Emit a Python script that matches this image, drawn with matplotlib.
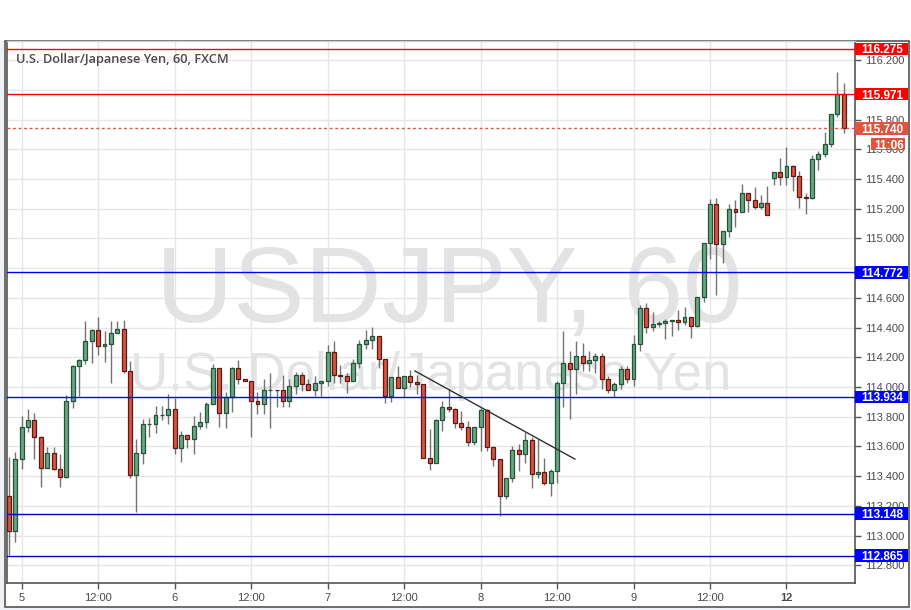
import numpy as np
import matplotlib.pyplot as plt
import matplotlib.transforms as mtransforms
from matplotlib.patches import Rectangle

# hourly USD/JPY candles (Sun 4th 22:00 -> Mon 12th 09:00)
opens = [113.264, 113.031, 113.513, 113.729, 113.776, 113.662, 113.453, 113.554, 113.446, 113.392,
         113.904, 114.141, 114.182, 114.308, 114.382, 114.274, 114.287, 114.361, 114.388, 114.106,
         113.410, 113.554, 113.749, 113.751, 113.810, 113.812, 113.852, 113.587, 113.675, 113.648,
         113.736, 113.762, 113.884, 114.126, 113.823, 113.933, 114.126, 114.052, 114.038, 113.904,
         113.884, 113.978, 113.979, 113.977, 113.904, 114.005, 114.081, 114.018, 113.978, 114.027,
         114.040, 114.234, 114.081, 114.072, 114.042, 114.159, 114.289, 114.314, 114.343, 114.186,
         113.937, 114.065, 113.991, 114.074, 114.032, 114.018, 113.520, 113.491, 113.778, 113.863,
         113.854, 113.760, 113.733, 113.628, 113.729, 113.843, 113.598, 113.513, 113.268, 113.386,
         113.574, 113.551, 113.641, 113.417, 113.428, 113.356, 113.435, 114.025, 114.162, 114.119,
         114.207, 114.159, 114.180, 114.207, 114.052, 113.978, 114.018, 114.119, 114.052, 114.287,
         114.530, 114.406, 114.424, 114.429, 114.442, 114.449, 114.435, 114.469, 114.408, 114.604,
         114.967, 115.229, 114.960, 115.048, 115.196, 115.176, 115.303, 115.256, 115.209, 115.236,
         115.404, 115.444, 115.411, 115.485, 115.422, 115.277, 115.270, 115.532, 115.566, 115.633,
         115.835, 115.971]
highs = [113.531, 113.561, 113.805, 113.852, 113.825, 113.670, 113.596, 113.596, 113.549, 113.946,
         114.148, 114.186, 114.444, 114.390, 114.471, 114.377, 114.444, 114.446, 114.451, 114.175,
         113.650, 113.785, 113.791, 113.870, 113.870, 113.951, 113.926, 113.702, 113.675, 113.803,
         113.830, 113.897, 114.153, 114.126, 113.968, 114.133, 114.182, 114.052, 114.040, 113.968,
         114.052, 114.092, 113.979, 114.081, 114.052, 114.103, 114.103, 114.052, 114.074, 114.040,
         114.283, 114.310, 114.148, 114.092, 114.186, 114.316, 114.384, 114.406, 114.343, 114.186,
         114.065, 114.141, 114.074, 114.114, 114.081, 114.018, 113.719, 113.783, 113.906, 113.985,
         113.857, 113.841, 113.773, 113.733, 113.861, 113.850, 113.598, 113.515, 113.386, 113.603,
         113.614, 113.699, 113.661, 113.648, 113.520, 113.446, 114.043, 114.377, 114.242, 114.310,
         114.296, 114.242, 114.227, 114.231, 114.074, 114.034, 114.141, 114.141, 114.348, 114.552,
         114.563, 114.505, 114.446, 114.456, 114.449, 114.518, 114.538, 114.469, 114.608, 114.967,
         115.265, 115.272, 115.048, 115.232, 115.258, 115.366, 115.303, 115.345, 115.292, 115.353,
         115.444, 115.539, 115.613, 115.492, 115.454, 115.306, 115.563, 115.588, 115.716, 115.835,
         116.120, 116.046]
lows = [112.869, 112.959, 113.448, 113.699, 113.518, 113.329, 113.453, 113.440, 113.329, 113.390,
        113.861, 113.939, 114.157, 114.164, 114.217, 114.170, 114.029, 114.361, 114.096, 113.390,
        113.160, 113.480, 113.661, 113.688, 113.778, 113.749, 113.547, 113.497, 113.587, 113.551,
        113.719, 113.722, 113.884, 113.729, 113.722, 113.834, 114.018, 114.038, 113.666, 113.818,
        113.818, 113.726, 113.863, 113.863, 113.863, 113.953, 113.971, 113.978, 113.939, 113.939,
        114.007, 114.025, 114.025, 113.962, 114.042, 114.130, 114.254, 114.254, 114.126, 113.894,
        113.901, 113.991, 113.931, 114.002, 113.953, 113.520, 113.441, 113.491, 113.704, 113.830,
        113.722, 113.711, 113.605, 113.610, 113.569, 113.571, 113.468, 113.132, 113.244, 113.359,
        113.437, 113.491, 113.318, 113.386, 113.340, 113.268, 113.356, 113.867, 113.787, 113.951,
        114.108, 114.108, 114.092, 113.985, 113.958, 113.935, 113.985, 114.029, 114.009, 114.242,
        114.365, 114.379, 114.402, 114.321, 114.345, 114.382, 114.415, 114.328, 114.404, 114.574,
        114.863, 114.621, 114.836, 115.011, 115.075, 115.176, 115.180, 115.196, 115.196, 115.155,
        115.361, 115.361, 115.361, 115.321, 115.203, 115.162, 115.263, 115.462, 115.550, 115.613,
        115.819, 115.711]
closes = [113.031, 113.513, 113.729, 113.776, 113.662, 113.453, 113.554, 113.446, 113.392, 113.904,
          114.141, 114.182, 114.308, 114.382, 114.274, 114.287, 114.361, 114.388, 114.106, 113.410,
          113.554, 113.749, 113.751, 113.810, 113.812, 113.852, 113.587, 113.675, 113.648, 113.736,
          113.762, 113.884, 114.126, 113.823, 113.933, 114.126, 114.052, 114.038, 113.904, 113.884,
          113.978, 113.979, 113.977, 113.904, 114.005, 114.081, 114.018, 113.978, 114.027, 114.040,
          114.234, 114.081, 114.072, 114.042, 114.159, 114.289, 114.314, 114.343, 114.186, 113.937,
          114.065, 113.991, 114.074, 114.032, 114.018, 113.520, 113.491, 113.778, 113.863, 113.854,
          113.760, 113.733, 113.628, 113.729, 113.843, 113.598, 113.513, 113.268, 113.386, 113.574,
          113.551, 113.641, 113.417, 113.428, 113.356, 113.435, 114.025, 114.162, 114.119, 114.207,
          114.159, 114.180, 114.207, 114.052, 113.978, 114.018, 114.119, 114.052, 114.287, 114.530,
          114.406, 114.424, 114.429, 114.442, 114.449, 114.435, 114.469, 114.408, 114.604, 114.967,
          115.229, 114.960, 115.048, 115.196, 115.176, 115.303, 115.256, 115.209, 115.236, 115.155,
          115.444, 115.411, 115.485, 115.422, 115.277, 115.270, 115.532, 115.566, 115.633, 115.835,
          115.971, 115.740]

tick_pos = [2, 14, 26, 38, 50, 62, 74, 86, 98, 110, 122]
tick_labels = ['5', '12:00', '6', '12:00', '7', '12:00', '8', '12:00', '9', '12:00', '12']

levels = [116.275, 115.971, 114.772, 113.934, 113.148, 112.865]
level_colors = ['#ff0000', '#ff0000', '#0000ff', '#0000ff', '#0000d0', '#0000d0']
box_colors = ['#ff0000', '#ff0000', '#0000ff', '#0000ff', '#0000ff', '#0000ff']
last_price = 115.740
countdown = '11:06'

trend_x = [63.7, 88.8]
trend_y = [114.108, 113.515]

title = 'U.S. Dollar/Japanese Yen, 60, FXCM'

W, H = 912, 610
TOP = 41      # pixel row where the chart frame starts
BOT = 583     # pixel row of the time axis
fig = plt.figure(figsize=(W / 100, H / 100), dpi=100, facecolor='#eef1f5')
fig.patches.append(Rectangle((0, 1 - TOP / H), 1, TOP / H, transform=fig.transFigure,
                             fc='white', ec='none', zorder=-6))
fig.patches.append(Rectangle((5 / W, 3 / H), 904 / W, (H - TOP - 3) / H, transform=fig.transFigure,
                             fc='white', ec='#555555', lw=1.2, zorder=-5))
ax = fig.add_axes([7 / W, (H - BOT) / H, 848 / W, (BOT - TOP) / H])
ax.set_facecolor('white')

x = np.arange(len(opens))
o = np.array(opens)
c = np.array(closes)
up = c >= o

ax.vlines(x, lows, highs, color='#737375', lw=1, zorder=3)
ax.bar(x, c - o, bottom=o, width=0.62,
       color=np.where(up, '#6ba583', '#d75442'),
       edgecolor=np.where(up, '#225437', '#5b1a13'), lw=0.9, zorder=4)

# levels
for lv, col in zip(levels, level_colors):
    ax.axhline(lv, color=col, lw=1, zorder=5)
ax.axhline(last_price, color='#e0533f', lw=1, ls=(0, (2, 2)), zorder=5)
ax.plot(trend_x, trend_y, color='#303030', lw=1, zorder=5)

ax.set_xlim(-0.3, 132.75)
ax.set_ylim(114 - (BOT - 387) / 148.6, 114 + (387 - TOP) / 148.6)

ax.yaxis.tick_right()
yt = np.arange(112.8, 116.21, 0.2)
ax.set_yticks(yt)
hidden = {'116.000', '114.800'}
ax.set_yticklabels(['' if f'{v:.3f}' in hidden else f'{v:.3f}' for v in yt],
                   family='Liberation Sans', fontsize=8, color='#4a4a4a')
ax.set_xticks(tick_pos)
ax.set_xticklabels(tick_labels, family=['Liberation Sans Narrow', 'Liberation Sans'],
                   fontsize=8, color='#4a4a4a')
ax.get_xticklabels()[-1].set_fontweight('bold')
ax.tick_params(axis='both', length=4, width=1, color='#555555', pad=3)
ax.grid(True, color='#e6e6e6', lw=1, zorder=0)
ax.set_axisbelow(True)

for s in ['left', 'right', 'bottom']:
    ax.spines[s].set_color('#555555')
    ax.spines[s].set_linewidth(1.2)
ax.spines['top'].set_color('#d0d0d0')
ax.spines['top'].set_linewidth(1)

# watermark
ax.text(0.522, (BOT - 322) / (BOT - TOP), 'USDJPY, 60', transform=ax.transAxes,
        ha='center', va='baseline', fontsize=77, color='#e3e3e3', family='Liberation Sans', zorder=1)
ax.text(0.499, (BOT - 390) / (BOT - TOP), 'U.S. Dollar/Japanese Yen', transform=ax.transAxes,
        ha='center', va='baseline', fontsize=38, color='#e3e3e3', family='Liberation Sans', zorder=1)

fig.text(16 / W, 1 - 60 / H, title, ha='left', va='center', fontsize=9.2,
         family='Open Sans', fontweight='semibold', color='#4a4a4a')

# right-hand price boxes
tr = mtransforms.blended_transform_factory(ax.transAxes, ax.transData)
bw = 53 / 848
bh = 12.5 / 148.6
for lv, col in zip(levels + [last_price], box_colors + ['#e0533f']):
    ax.add_patch(Rectangle((1.0, lv - bh / 2), bw, bh, transform=tr, fc=col, ec='none',
                           clip_on=False, zorder=6))
    ax.text(1.0 + 6 / 848, lv, f'{lv:.3f}', transform=tr, ha='left', va='center_baseline',
            fontsize=8.5, fontweight='bold', color='white', family='Liberation Sans',
            clip_on=False, zorder=7)
cd_y = last_price - 0.105
ax.add_patch(Rectangle((1.0 + 16 / 848, cd_y - bh / 2), 34 / 848, bh, transform=tr,
                       fc='#e0533f', ec='none', clip_on=False, zorder=6))
ax.text(1.0 + 19 / 848, cd_y, countdown, transform=tr, ha='left', va='center_baseline',
        fontsize=8.5, fontweight='bold', color='white', family='Liberation Sans',
        clip_on=False, zorder=7)

fig.savefig('out.png', dpi=100, facecolor=fig.get_facecolor())
